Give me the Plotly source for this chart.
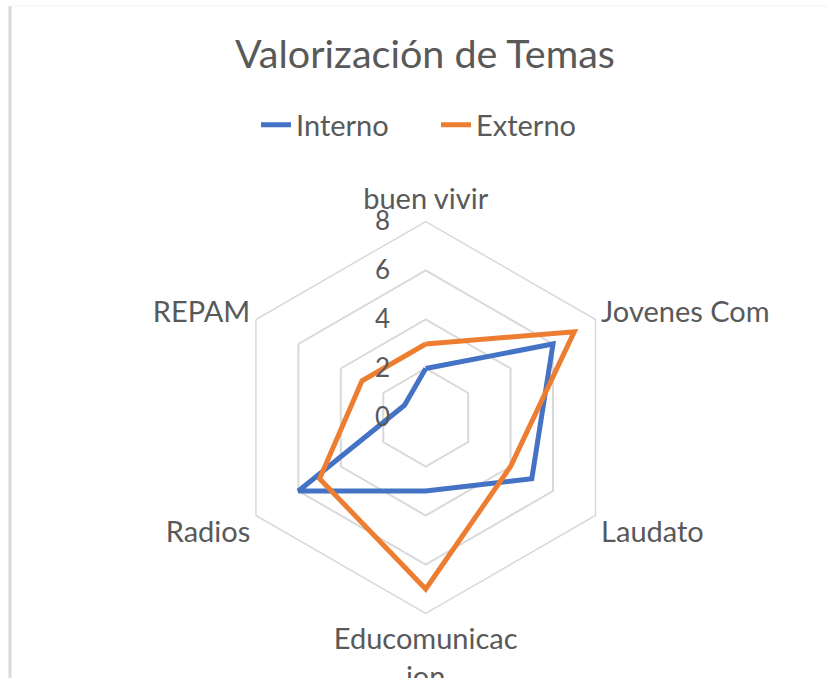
import plotly.graph_objects as go

categories = ["buen vivir", "Jovenes Com", "Laudato", "Educomunicacion", "Radios", "REPAM"]
tick_labels = ["buen vivir", "Jovenes Com", "Laudato", "Educomunicac<br>ion", "Radios", "REPAM"]
interno = [2, 6, 5, 3, 6, 1]
externo = [3, 7, 4, 7, 5, 3]
radial_ticks = [0, 2, 4, 6, 8]

W, H = 828, 678
FONT = "Lato"
GRAY = "#595959"
GRID = "#d9d9d9"
LABEL_SIZE = 29

fig = go.Figure()
fig.add_trace(go.Scatterpolar(
    r=interno + interno[:1], theta=categories + categories[:1],
    mode="lines", name="Interno",
    line=dict(color="#4472C4", width=5),
))
fig.add_trace(go.Scatterpolar(
    r=externo + externo[:1], theta=categories + categories[:1],
    mode="lines", name="Externo",
    line=dict(color="#ED7D31", width=5),
))

cx, cy, R = 425.7, 417.5, 196.0
fig.update_layout(
    width=W, height=H,
    margin=dict(l=0, r=0, t=0, b=0),
    paper_bgcolor="white",
    font=dict(family=FONT, color=GRAY, size=LABEL_SIZE),
    title=dict(text="Valorización de Temas", x=425/W, xanchor="center",
               y=1 - 54/H, yanchor="middle",
               font=dict(family=FONT, size=39.5, color=GRAY)),
    showlegend=True,
    legend=dict(orientation="h", x=436/W, xanchor="center", y=1 - 125/H, yanchor="middle",
                entrywidth=135, entrywidthmode="pixels",
                font=dict(family=FONT, size=LABEL_SIZE, color=GRAY), bgcolor="rgba(0,0,0,0)"),
    polar=dict(
        domain=dict(x=[(cx - R)/W, (cx + R)/W], y=[1 - (cy + R)/H, 1 - (cy - R)/H]),
        bgcolor="white",
        gridshape="linear",
        angularaxis=dict(
            rotation=90, direction="clockwise", type="category",
            categoryarray=categories,
            tickmode="array", tickvals=categories, ticktext=tick_labels,
            showgrid=False, showline=True, linecolor=GRID, linewidth=1.5,
            ticks="", tickfont=dict(family=FONT, size=LABEL_SIZE, color=GRAY),
        ),
        radialaxis=dict(
            range=[0, 8], tickmode="array", tickvals=radial_ticks,
            angle=90, side="counterclockwise", tickangle=90,
            showline=False, gridcolor=GRID, gridwidth=1.5,
            ticks="outside", ticklen=26, tickcolor="rgba(0,0,0,0)",
            tickfont=dict(family=FONT, size=26, color=GRAY),
        ),
    ),
    shapes=[
        dict(type="line", xref="paper", yref="paper", x0=10/W, x1=10/W, y0=0, y1=1 - 6/H,
             line=dict(color=GRID, width=3)),
        dict(type="line", xref="paper", yref="paper", x0=10/W, x1=1, y0=1 - 6/H, y1=1 - 6/H,
             line=dict(color="#f2f2f2", width=1)),
    ],
)

fig.write_html("out.html", config={"displayModeBar": False},
               post_script="document.body.style.margin='0';")
